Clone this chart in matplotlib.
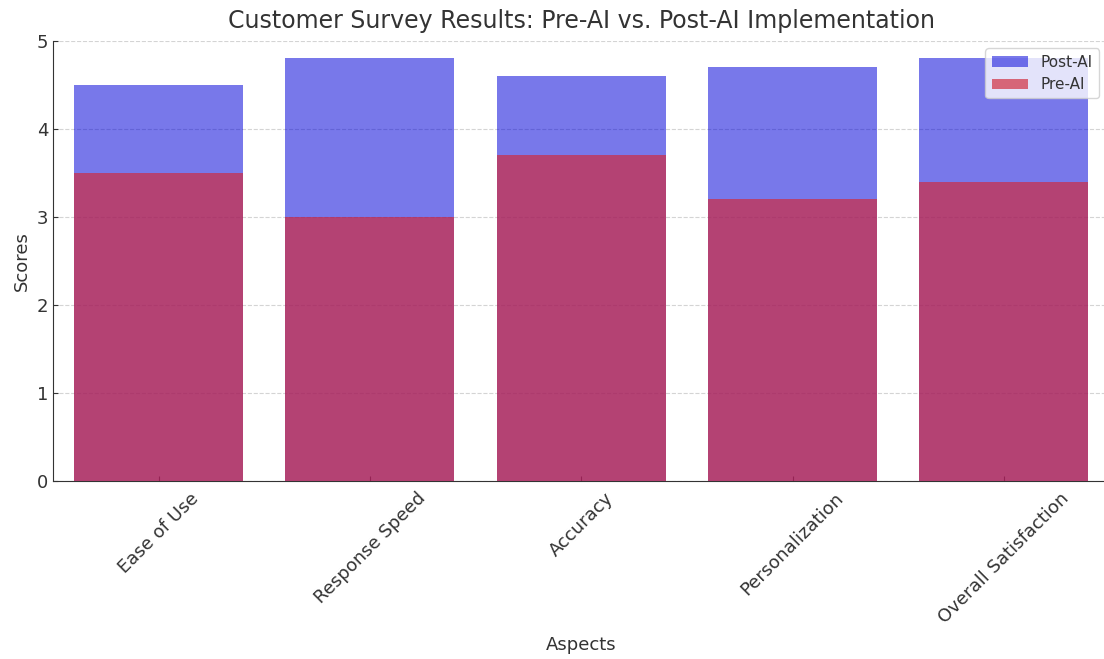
import matplotlib.pyplot as plt
import numpy as np

aspects = ["Ease of Use", "Response Speed", "Accuracy", "Personalization", "Overall Satisfaction"]
pre_ai = [3.5, 3.0, 3.7, 3.2, 3.4]
post_ai = [4.5, 4.8, 4.6, 4.7, 4.8]

text_color = "#333333"

fig = plt.figure(figsize=(11.04, 6.59), dpi=100)
ax = fig.add_axes([0.048, 0.27, 0.957, 0.668])

x = np.arange(len(aspects))
ax.bar(x, post_ai, width=0.8, color=(0, 0, 0.85), alpha=0.53, label="Post-AI", zorder=2)
ax.bar(x, pre_ai, width=0.8, color=(0.82, 0.16, 0.23), alpha=0.68, label="Pre-AI", zorder=3)

ax.set_xlim(-0.5, 4.5)
ax.set_ylim(0, 5)
ax.set_xticks(x)
ax.set_xticklabels(aspects, rotation=45, ha="center", fontsize=13, color=text_color)
ax.tick_params(axis="x", pad=6)
ax.tick_params(axis="y", labelsize=13, labelcolor=text_color)
ax.tick_params(direction="in", color=text_color)

ax.set_title("Customer Survey Results: Pre-AI vs. Post-AI Implementation",
             fontsize=17, color=text_color, pad=9)
ax.set_xlabel("Aspects", fontsize=13, color=text_color, labelpad=7)
ax.set_ylabel("Scores", fontsize=13, color=text_color)

ax.yaxis.grid(True, linestyle="--", color="#d4d4d4", linewidth=0.8, zorder=0)
ax.set_axisbelow(True)

for side in ["top", "right"]:
    ax.spines[side].set_visible(False)
for side in ["left", "bottom"]:
    ax.spines[side].set_color(text_color)

ax.legend(loc="upper right", fontsize=11, labelcolor=text_color,
          bbox_to_anchor=(0.997, 1.0), handlelength=2.4)

fig.savefig("out.png", dpi=100)
